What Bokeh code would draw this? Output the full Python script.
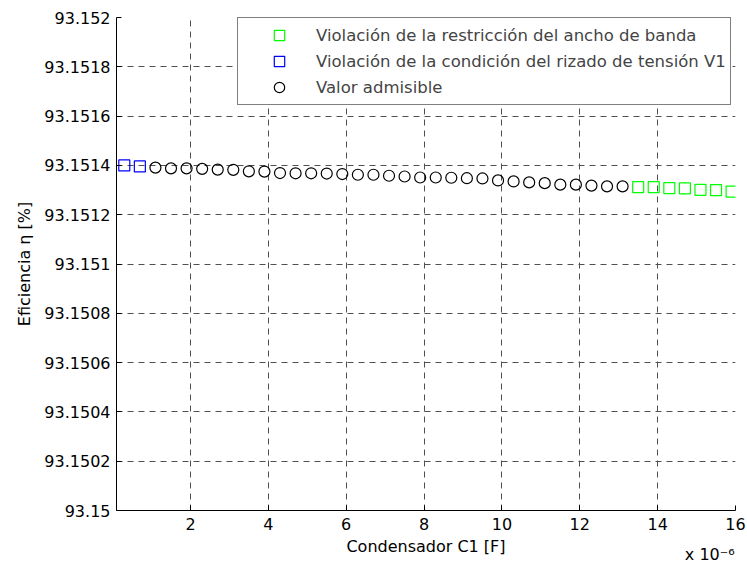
from bokeh.plotting import figure
from bokeh.models import (Range1d, FixedTicker, Legend, LegendItem, LinearAxis,
                          ColumnDataSource)
from bokeh.embed import file_html
from bokeh.resources import INLINE

# ---------------- data ----------------
# Capacitor C1 in units of 1e-6 F
c1 = [0.3, 0.7, 1.1, 1.5, 1.9, 2.3, 2.7, 3.1, 3.5, 3.9,
      4.3, 4.7, 5.1, 5.5, 5.9, 6.3, 6.7, 7.1, 7.5, 7.9,
      8.3, 8.7, 9.1, 9.5, 9.9, 10.3, 10.7, 11.1, 11.5, 11.9,
      12.3, 12.7, 13.1, 13.5, 13.9, 14.3, 14.7, 15.1, 15.5, 15.9]
# Efficiency eta [%]
eff = [93.151400, 93.151396, 93.151391, 93.151388, 93.151388, 93.151386,
       93.151383, 93.151382, 93.151376, 93.151375, 93.151369, 93.151368,
       93.151368, 93.151367, 93.151365, 93.151362, 93.151362, 93.151358,
       93.151355, 93.151351, 93.151351, 93.151350, 93.151348, 93.151347,
       93.151339, 93.151335, 93.151331, 93.151328, 93.151322, 93.151322,
       93.151318, 93.151315, 93.151315, 93.151312, 93.151312, 93.151308,
       93.151307, 93.151301, 93.151300, 93.151294]
# status: "V" = ripple violation V1, "A" = admissible, "B" = bandwidth violation
status = ["V", "V"] + ["A"] * 31 + ["B"] * 7

legend_labels = ["Violación de la restricción del ancho de banda",
                 "Violación de la condición del rizado de tensión V1",
                 "Valor admisible"]
x_label = "Condensador C1 [F]"
y_label = "Eficiencia η [%]"
x_multiplier = "x 10⁻⁶"

x_ticks = [2, 4, 6, 8, 10, 12, 14, 16]
y_ticks = [93.15, 93.1502, 93.1504, 93.1506, 93.1508, 93.151,
           93.1512, 93.1514, 93.1516, 93.1518, 93.152]
y_tick_labels = ["93.15", "93.1502", "93.1504", "93.1506", "93.1508", "93.151",
                 "93.1512", "93.1514", "93.1516", "93.1518", "93.152"]
x_range = (0.1, 16)
y_range = (93.15, 93.152)

def subset(code):
    return ColumnDataSource(dict(
        x=[xv for xv, s in zip(c1, status) if s == code],
        y=[yv for yv, s in zip(eff, status) if s == code]))

FONT = "DejaVu Sans"

p = figure(width=747, height=568, output_backend="svg", toolbar_location=None,
           x_range=Range1d(*x_range), y_range=Range1d(*y_range),
           min_border_left=116, min_border_right=12, min_border_top=17,
           min_border_bottom=58)
p.outline_line_color = None
p.background_fill_color = "white"
p.border_fill_color = "white"

# axes
xt = FixedTicker(ticks=x_ticks)
yt = FixedTicker(ticks=y_ticks)
p.xaxis.ticker = xt
p.yaxis.ticker = yt
p.yaxis.major_label_overrides = {v: s for v, s in zip(y_ticks, y_tick_labels)}
for ax in (p.xaxis[0], p.yaxis[0]):
    ax.major_tick_in = 5
    ax.major_tick_out = 0
    ax.minor_tick_in = 0
    ax.minor_tick_out = 0
    ax.axis_line_color = "black"
    ax.major_tick_line_color = "black"
    ax.major_label_text_font = FONT
    ax.major_label_text_font_size = "16px"
    ax.major_label_text_color = "black"
    ax.axis_label_text_font = FONT
    ax.axis_label_text_font_size = "16px"
    ax.axis_label_text_font_style = "normal"
    ax.axis_label_text_color = "black"
p.xaxis.major_label_standoff = 7
p.yaxis.major_label_standoff = 6
p.xaxis.axis_label = x_label
p.xaxis.axis_label_standoff = 4
p.yaxis.axis_label = y_label
p.yaxis.axis_label_standoff = 7

# multiplier "x 10^-6" shown under the last tick (right aligned)
mult_axis = LinearAxis(ticker=FixedTicker(ticks=[x_ticks[-1]]),
                       major_label_overrides={x_ticks[-1]: x_multiplier},
                       major_label_text_align="right",
                       major_label_standoff=-20,
                       major_label_text_font=FONT,
                       major_label_text_font_size="16px",
                       major_label_text_color="black",
                       axis_line_color=None, major_tick_line_color=None,
                       minor_tick_line_color=None)
p.add_layout(mult_axis, "below")

# grid
for g in (p.xgrid[0], p.ygrid[0]):
    g.grid_line_color = "#505050"
    g.grid_line_dash = "6 5"
    g.grid_line_width = 1
p.xgrid.ticker = xt
p.ygrid.ticker = yt

# data
r_green = p.scatter("x", "y", source=subset("B"), marker="square", size=11,
                    fill_color=None, line_color="#00FF00", line_width=1.2)
r_blue = p.scatter("x", "y", source=subset("V"), marker="square", size=11,
                   fill_color=None, line_color="#0000FF", line_width=1.2)
r_circ = p.scatter("x", "y", source=subset("A"), marker="circle", size=11,
                   fill_color=None, line_color="black", line_width=1.2)

legend = Legend(items=[LegendItem(label=legend_labels[0], renderers=[r_green]),
                       LegendItem(label=legend_labels[1], renderers=[r_blue]),
                       LegendItem(label=legend_labels[2], renderers=[r_circ])],
                location=(121, 405), padding=4, spacing=0, margin=0,
                glyph_width=74, glyph_height=26, label_standoff=0,
                label_text_font=FONT, label_text_font_size="16.5px",
                border_line_color="black", border_line_width=1.3,
                background_fill_color="white", background_fill_alpha=1)
p.add_layout(legend, "center")

open("out.html", "w").write(file_html(p, INLINE))
